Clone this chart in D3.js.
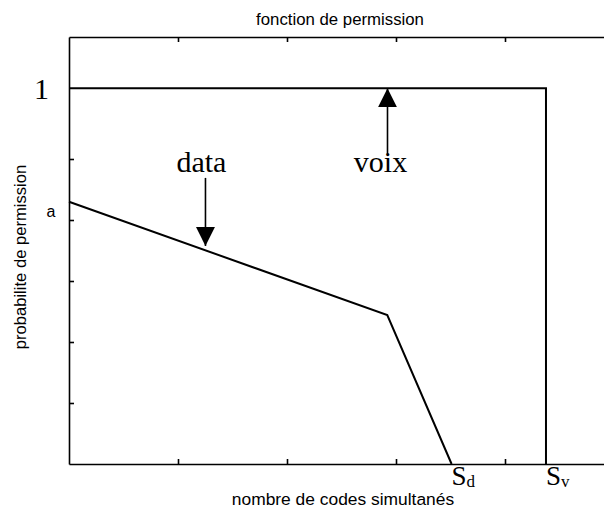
<!DOCTYPE html>
<html>
<head>
<meta charset="utf-8">
<script src="https://cdn.jsdelivr.net/npm/d3@7"></script>
<style>
  body { margin: 0; background: #fff; }
  .sans { font-family: "Liberation Sans", Arial, sans-serif; }
  .serif { font-family: "Liberation Serif", "Times New Roman", serif; }
  .axis path, .axis line { stroke: #000; stroke-width: 1.6; }
</style>
</head>
<body>
<svg id="chart" width="604" height="511"></svg>
<script>
// axis units: x in tick steps, y in tick steps
var xTicks = [1, 2, 3, 4];
var yTicks = [1, 2, 3, 4, 5];

// permission curves
var dataCurve = [[0, 4.30], [2.92, 2.44], [3.51, 0]];
var voixCurve = [[0, 6.16], [4.376, 6.16], [4.376, 0]];

// annotation arrows [x, yFrom, yTip]
var dataArrow = [1.252, 4.69, 3.574];
var voixArrow = [2.922, 5.08, 6.16];

var svg = d3.select('#chart');

var x = d3.scaleLinear().domain([0, 5]).range([69, 614]);
var y = d3.scaleLinear().domain([0, 7]).range([464, 37]);

svg.append('defs').append('marker')
    .attr('id', 'head')
    .attr('viewBox', '0 0 10 10')
    .attr('refX', 10).attr('refY', 5)
    .attr('markerUnits', 'userSpaceOnUse')
    .attr('markerWidth', 19).attr('markerHeight', 19)
    .attr('orient', 'auto')
  .append('path')
    .attr('d', 'M0,0L10,5L0,10Z')
    .attr('fill', '#000');

// frame with inward ticks
svg.append('g').attr('class', 'axis')
    .attr('transform', 'translate(0,' + y(0) + ')')
    .call(d3.axisBottom(x).tickValues(xTicks).tickSize(-5).tickSizeOuter(0).tickFormat(''));
svg.append('g').attr('class', 'axis')
    .attr('transform', 'translate(0,' + y(7) + ')')
    .call(d3.axisTop(x).tickValues(xTicks).tickSize(-5).tickSizeOuter(0).tickFormat(''));
svg.append('g').attr('class', 'axis')
    .attr('transform', 'translate(' + x(0) + ',0)')
    .call(d3.axisLeft(y).tickValues(yTicks).tickSize(-5).tickSizeOuter(0).tickFormat(''));

var line = d3.line().x(function (d) { return x(d[0]); }).y(function (d) { return y(d[1]); });

svg.append('path').datum(dataCurve)
    .attr('d', line).attr('fill', 'none').attr('stroke', '#000').attr('stroke-width', 2);
svg.append('path').datum(voixCurve)
    .attr('d', line).attr('fill', 'none').attr('stroke', '#000').attr('stroke-width', 2);

[dataArrow, voixArrow].forEach(function (a) {
    svg.append('line')
        .attr('x1', x(a[0])).attr('x2', x(a[0]))
        .attr('y1', y(a[1])).attr('y2', y(a[2]))
        .attr('stroke', '#000').attr('stroke-width', 1.6)
        .attr('marker-end', 'url(#head)');
});

// texts
svg.append('text').attr('class', 'sans')
    .attr('x', 340).attr('y', 25).attr('text-anchor', 'middle')
    .style('font-size', '16.8px').text('fonction de permission');

svg.append('text').attr('class', 'sans')
    .attr('x', 343).attr('y', 505).attr('text-anchor', 'middle')
    .style('font-size', '17.4px').text('nombre de codes simultanés');

svg.append('text').attr('class', 'sans')
    .attr('transform', 'translate(26,' + 257 + ') rotate(-90)')
    .attr('text-anchor', 'middle')
    .style('font-size', '16.6px').text('probabilite de permission');

svg.append('text').attr('class', 'sans')
    .attr('x', 51).attr('y', y(4.3) + 15).attr('text-anchor', 'middle')
    .style('font-size', '16px').text('a');

svg.append('text').attr('class', 'serif')
    .attr('x', 49).attr('y', y(6.16) + 11).attr('text-anchor', 'end')
    .style('font-size', '30px').text('1');

svg.append('text').attr('class', 'serif')
    .attr('x', x(dataArrow[0]) - 4).attr('y', y(dataArrow[1]) - 6).attr('text-anchor', 'middle')
    .style('font-size', '30px').text('data');

svg.append('text').attr('class', 'serif')
    .attr('x', x(voixArrow[0]) - 7).attr('y', y(voixArrow[1]) + 18).attr('text-anchor', 'middle')
    .style('font-size', '30px').text('voix');

function sLabel(xv, sub) {
    var t = svg.append('text').attr('class', 'serif')
        .attr('x', x(xv)).attr('y', 485).style('font-size', '27px');
    t.append('tspan').text('S');
    t.append('tspan').attr('dy', 2).style('font-size', '17px').text(sub);
}
sLabel(dataCurve[2][0], 'd');
sLabel(voixCurve[2][0], 'v');
</script>
</body>
</html>
